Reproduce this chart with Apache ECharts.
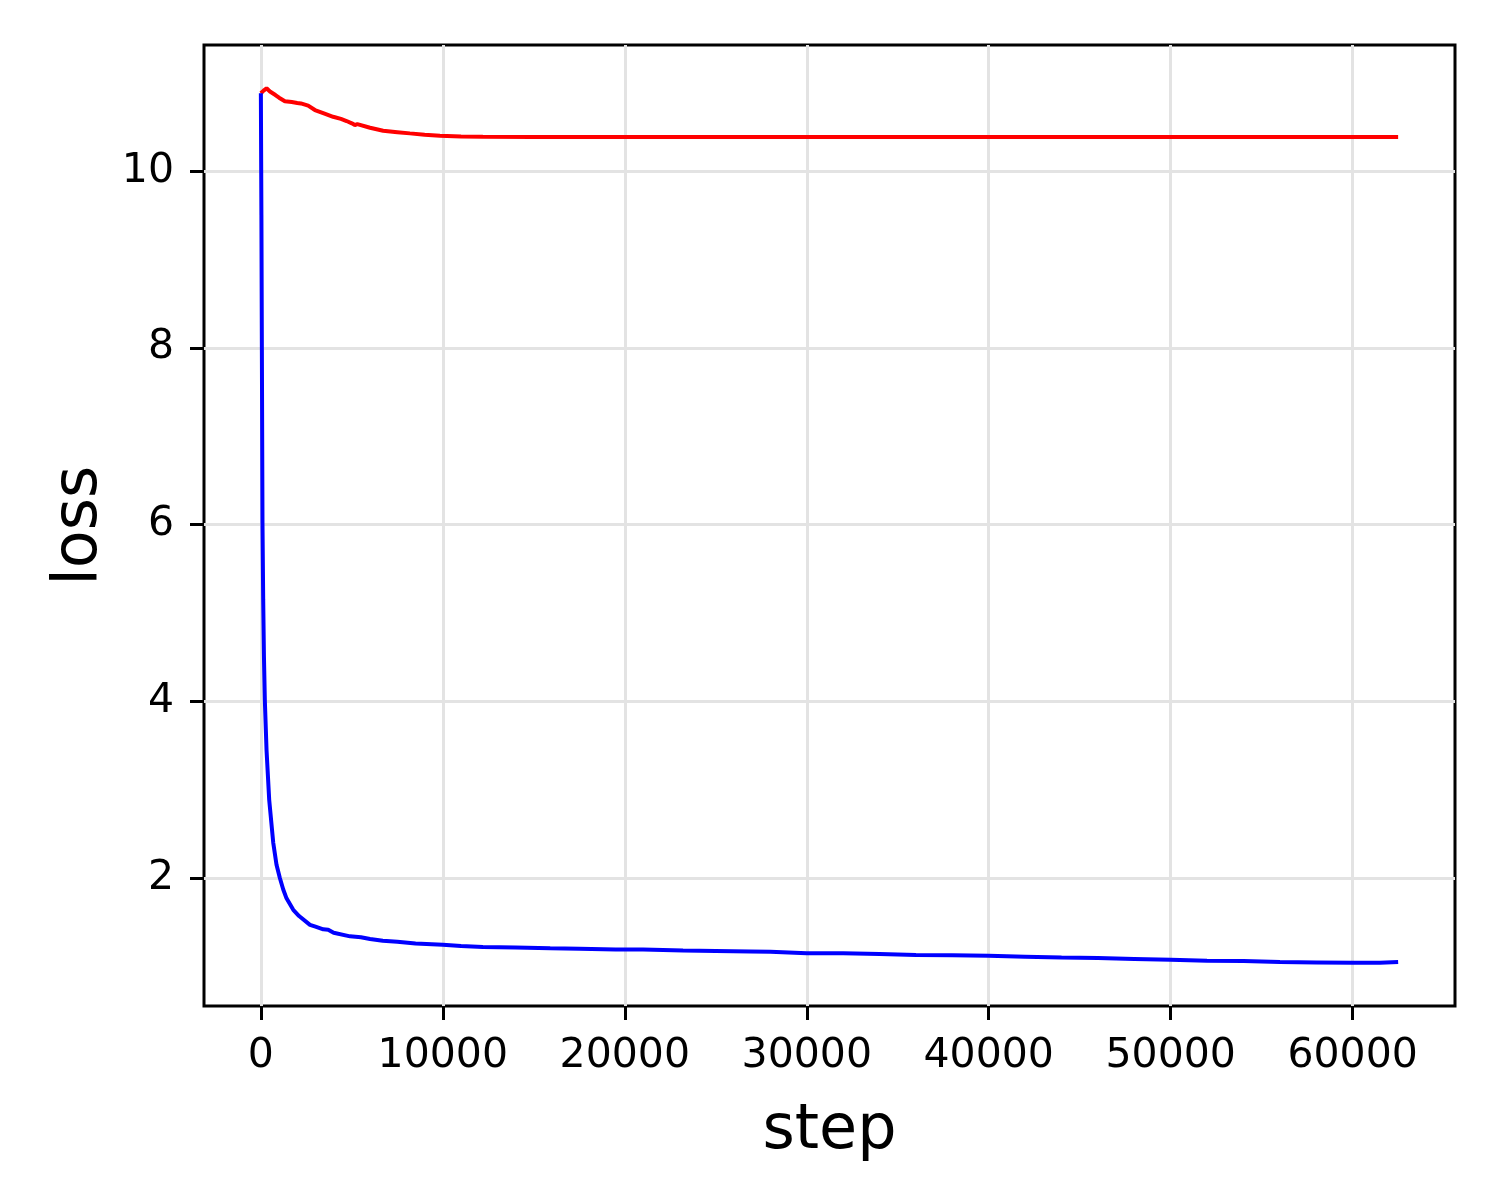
<!DOCTYPE html>
<html>
<head>
<meta charset="utf-8">
<script src="https://cdn.jsdelivr.net/npm/echarts@6/dist/echarts.min.js"></script>
<style>html,body{margin:0;padding:0;background:#fff}#c{width:1500px;height:1200px}</style>
</head>
<body>
<div id="c"></div>
<script>
const xTicks = [0, 10000, 20000, 30000, 40000, 50000, 60000];
const yTicks = [2, 4, 6, 8, 10];

const redSteps = [0,150,313,500,800,1000,1320,1700,2000,2100,2200,2600,2970,3500,3970,4400,4710,5000,5165,5300,6000,6720,7500,8190,9000,9840,11000,12200,14900,62500];
const redLoss  = [10.88,10.91,10.936,10.90,10.86,10.83,10.79,10.78,10.77,10.79,10.765,10.74,10.69,10.65,10.614,10.59,10.566,10.54,10.52,10.53,10.49,10.456,10.44,10.426,10.41,10.40,10.392,10.388,10.385,10.385];

const blueSteps = [0,30,55,90,128,170,220,311,458,680,860,1044,1230,1410,1780,2100,2700,3000,3430,3700,4000,4900,5500,6000,6700,7500,8500,10000,11000,12200,14000,15900,17500,19500,21000,23200,25000,26900,28000,30000,32000,34000,36000,38000,40000,42000,44000,46000,48000,50000,52000,54000,56000,58000,60000,61500,62500];
const blueLoss  = [10.88,9.5,8.0,6.0,5.15,4.5,4.0,3.45,2.885,2.4,2.15,2.0,1.87,1.77,1.64,1.57,1.47,1.45,1.42,1.415,1.38,1.34,1.33,1.31,1.29,1.28,1.26,1.245,1.23,1.22,1.215,1.205,1.20,1.19,1.19,1.18,1.175,1.17,1.165,1.15,1.148,1.14,1.13,1.125,1.12,1.11,1.10,1.095,1.085,1.075,1.065,1.06,1.05,1.045,1.04,1.04,1.05];

const pair = (xs, ys) => xs.map((x, i) => [x, ys[i]]);
const chart = echarts.init(document.getElementById('c'));
const font = "'DejaVu Sans', sans-serif";
chart.setOption({
  animation: false,
  backgroundColor: '#fff',
  grid: { left: 204, right: 45, top: 45, bottom: 194, show: true, borderColor: '#000', borderWidth: 3, backgroundColor: 'transparent' },
  xAxis: {
    type: 'value', min: -3125, max: 65625,
    name: 'step', nameLocation: 'middle', nameGap: 95,
    nameTextStyle: { fontFamily: font, fontSize: 62, color: '#000' },
    axisLine: { show: false, onZero: false },
    axisTick: { show: true, customValues: xTicks, length: 14, lineStyle: { color: '#000', width: 3 } },
    axisLabel: { customValues: xTicks, formatter: v => String(v), fontFamily: font, fontSize: 41, color: '#000', margin: 30 },
    splitLine: { show: true, lineStyle: { color: '#e3e3e3', width: 3 } }
  },
  yAxis: {
    type: 'value', min: 0.552, max: 11.426,
    name: 'loss', nameLocation: 'middle', nameGap: 92,
    nameTextStyle: { fontFamily: font, fontSize: 62, color: '#000' },
    axisLine: { show: false, onZero: false },
    axisTick: { show: true, customValues: yTicks, length: 14, lineStyle: { color: '#000', width: 3 } },
    axisLabel: { customValues: yTicks, formatter: v => String(v), fontFamily: font, fontSize: 41, color: '#000', margin: 30 },
    splitLine: { show: true, lineStyle: { color: '#e3e3e3', width: 3 } }
  },
  series: [
    { type: 'line', data: pair(redSteps, redLoss), showSymbol: false, lineStyle: { color: '#ff0000', width: 4 }, itemStyle: { color: '#ff0000' } },
    { type: 'line', data: pair(blueSteps, blueLoss), showSymbol: false, lineStyle: { color: '#0000ff', width: 4 }, itemStyle: { color: '#0000ff' } }
  ]
});
</script>
</body>
</html>
